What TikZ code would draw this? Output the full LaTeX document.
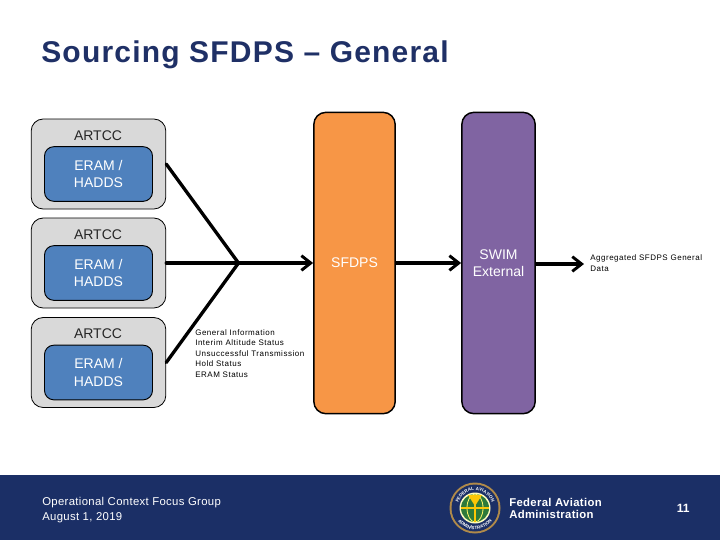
\documentclass[tikz,border=0pt]{standalone}
\usepackage{fontspec}
\setmainfont{Liberation Sans}
\newfontfamily\spacedfont[LetterSpace=4]{Liberation Sans}
\newfontfamily\smallfont[LetterSpace=6.5]{Liberation Sans}
\newfontfamily\footfont[LetterSpace=3]{Liberation Sans}
\usetikzlibrary{arrows.meta,decorations.text}

\definecolor{navy}{HTML}{1B2F66}
\definecolor{titleblue}{HTML}{1F3066}
\definecolor{eramblue}{HTML}{4F81BD}
\definecolor{sfdpsorange}{HTML}{F79646}
\definecolor{swimpurple}{HTML}{8064A2}
\definecolor{artccgray}{HTML}{D9D9D9}
\definecolor{sealgold}{HTML}{B08A4A}
\definecolor{sealgreen}{HTML}{2E7A3A}

\tikzset{
    artccbox/.style={shape=rectangle,rounded corners=9pt,draw=black,fill=artccgray,line width=0.6pt,minimum width=101pt,minimum height=67.5pt},
    erambox/.style={shape=rectangle,rounded corners=7pt,draw=black,fill=eramblue,line width=0.7pt,minimum width=81pt,minimum height=41pt,text=white,align=center,font=\fontsize{10.5pt}{13pt}\selectfont},
    tallbox/.style={shape=rectangle,rounded corners=9pt,draw=black,line width=1.1pt,minimum height=226pt,text=white,align=center,font=\fontsize{10.5pt}{12.3pt}\selectfont},
    artcctext/.style={font=\fontsize{10.5pt}{13pt}\selectfont,text=black!85},
    smalltext/.style={font=\smallfont\fontsize{6pt}{7.9pt}\selectfont,align=left,anchor=north west,inner sep=0pt},
    foottext/.style={font=\footfont\fontsize{8.5pt}{11.3pt}\selectfont,text=white,align=left,anchor=west,inner sep=0pt},
    flow/.style={line width=2.5pt,-{Straight Barb[length=7pt,width=11pt,line width=2.2pt]}},
    feed/.style={line width=2.5pt,line cap=round}
}

\begin{document}
\begin{tikzpicture}[x=0.75pt,y=-0.75pt]
    \useasboundingbox (0,0) rectangle (720,540);
    \fill[white] (0,0) rectangle (720,540);
    \fill[navy] (0,475) rectangle (720,540);

    \node[anchor=west,inner sep=0pt,text=titleblue,font=\spacedfont\bfseries\fontsize{22.5pt}{26pt}\selectfont] (title) at (41,55) {Sourcing SFDPS – General};

    \node[artccbox] (A1) at (98.5,164) {};
    \node[artccbox] (A2) at (98.5,263) {};
    \node[artccbox] (A3) at (98.5,362.5) {};
    \node[artcctext] (L1) at (98,135.5) {ARTCC};
    \node[artcctext] (L2) at (98,234.5) {ARTCC};
    \node[artcctext] (L3) at (98,333.5) {ARTCC};
    \node[erambox] (E1) at (98.5,174) {ERAM /\\HADDS};
    \node[erambox] (E2) at (98.5,273) {ERAM /\\HADDS};
    \node[erambox] (E3) at (98.5,372.5) {ERAM /\\HADDS};

    \node[tallbox,fill=sfdpsorange,minimum width=61pt] (S) at (354.5,263) {SFDPS};
    \node[tallbox,fill=swimpurple,minimum width=55pt] (W) at (498.5,263) {SWIM\\External};

    \coordinate (J) at (238.5,263);
    \coordinate (O) at (584,264);

    \path [feed](A1.east) edge (J);
    \path [feed](A2.east) edge (J);
    \path [feed](A3.east) edge (J);
    \draw [flow](J) -- (S.west);
    \draw [flow](S.east) -- (W.west);
    \draw [flow](W.east |- O) -- (O);

    \node[smalltext] (info) at (195,329) {General Information\\Interim Altitude Status\\Unsuccessful Transmission\\Hold Status\\ERAM Status};
    \node[smalltext] (agg) at (590,254.5) {Aggregated SFDPS General\\Data};

    \node[foottext] (group) at (42,510.5) {Operational Context Focus Group\\August 1, 2019};
    \node[foottext,font=\footfont\bfseries\fontsize{8.5pt}{8.5pt}\selectfont] (faa) at (509,508.5) {Federal Aviation\\Administration};
    \node[foottext,font=\bfseries\fontsize{9pt}{10pt}\selectfont] (page) at (676.5,508) {11};

    % seal
    \coordinate (seal) at (475,508);
    \fill[sealgold] (seal) circle (25.5);
    \fill[navy] (seal) circle (23.5);
    \fill[white!75!yellow] (seal) circle (15.5);
    \fill[sealgreen] (seal) circle (14);
    \draw[yellow!60!white,line width=0.6pt] (475,508) ellipse (8 and 14);
    \draw[yellow!60!orange,line width=0.8pt] (461,508) -- (489,508) (475,497) -- (475,522);
    \fill[yellow!60!orange] (468,495) -- (482,495) -- (475,506) -- cycle;
    \path[decorate,decoration={text along path,text align=center,text={|\fontsize{3.4pt}{3.4pt}\bfseries\color{white}|FEDERAL AVIATION}}] (457.5,508) arc[start angle=180,end angle=360,radius=17.5];
    \path[decorate,decoration={text along path,text align=center,text={|\fontsize{3.4pt}{3.4pt}\bfseries\color{white}|ADMINISTRATION}}] (453.5,508) arc[start angle=180,end angle=0,radius=21.5];
\end{tikzpicture}
\end{document}
